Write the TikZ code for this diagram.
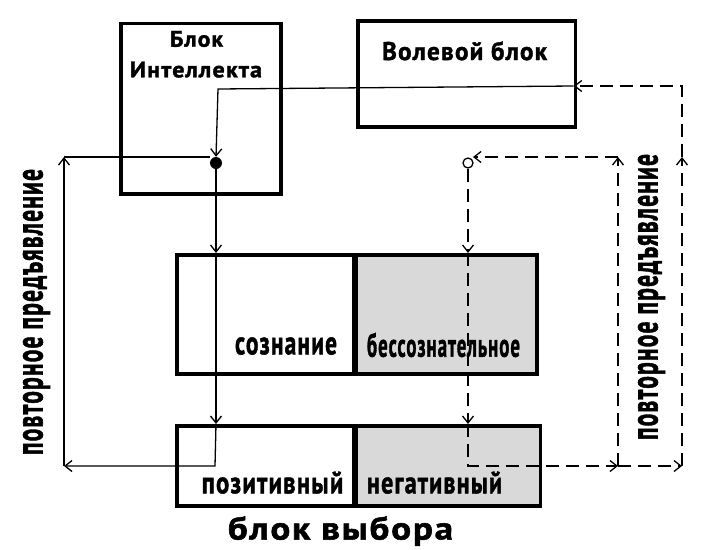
\documentclass[tikz,border=0pt]{standalone}
\usepackage{fontspec}
\setmainfont{PT Sans}[FakeBold=1.6, LetterSpace=5]
\usepackage{graphicx}
\usetikzlibrary{arrows.meta}
\definecolor{boxgray}{HTML}{D9D9D9}
\newcommand{\rz}[3]{\resizebox{#2pt}{\height}{\fontsize{#1pt}{#1pt}\selectfont\bfseries #3}}
\begin{document}
\begin{tikzpicture}[x=1pt,y=-1pt,
  box/.style={draw, line width=3.7pt, rectangle, inner sep=0pt, anchor=north west},
  graybox/.style={box, fill=boxgray},
  conn/.style={line width=1.3pt},
  dconn/.style={line width=1.3pt, dash pattern=on 13pt off 7pt},
  tip/.style={-{Straight Barb[length=7pt,width=11pt]}},
  lbl/.style={inner sep=0pt, anchor=base},
  rlbl/.style={inner sep=0pt, anchor=base, rotate=90},
]
\useasboundingbox (0,0) rectangle (704,549);

% boxes
\node[box, minimum width=160.3pt, minimum height=170.3pt] (intel) at (119,21.7) {};
\node[box, minimum width=217.7pt, minimum height=105.7pt] (vol) at (356,19.3) {};
\node[box, minimum width=179pt, minimum height=119.3pt] (midL) at (175,253) {};
\node[graybox, minimum width=181pt, minimum height=119.3pt] (midR) at (354,253) {};
\node[box, minimum width=179pt, minimum height=80.3pt] (lowL) at (175,424) {};
\node[graybox, minimum width=184.7pt, minimum height=80.3pt] (lowR) at (354,424) {};
\draw[line width=3.7pt] (midR.north west) -- ++(0,123);
\draw[line width=3.7pt] (lowR.north west) -- ++(0,84);

% labels
\node[lbl] (t1) at (196.5,46.7) {\rz{22.5}{53}{Блок}};
\node[lbl] (t2) at (196,77.3) {\rz{22.5}{132}{Интеллекта}};
\node[lbl] (t3) at (464.5,60) {\rz{25.5}{165}{Волевой блок}};
\node[lbl] (t4) at (286,354.3) {\rz{33}{102}{сознание}};
\node[lbl] (t5) at (443.5,356.7) {\rz{33}{153}{бессознательное}};
\node[lbl] (t6) at (272.5,493.3) {\rz{31}{141.6}{позитивный}};
\node[lbl] (t7) at (434.5,493.3) {\rz{31}{135}{негативный}};
\node[lbl] (t8) at (340.5,539.5) {\rz{32}{225}{блок выбора}};
\node[rlbl] (t9) at (42.5,312) {\rz{38}{286}{повторное предъявление}};
\node[rlbl] (t10) at (657.5,297) {\rz{38}{286}{повторное предъявление}};

% junctions
\node[circle, fill=black, inner sep=0pt, minimum size=12pt] (dot) at (216,163) {};
\node[circle, draw, fill=white, line width=1.3pt, inner sep=0pt, minimum size=10pt] (ring) at (468,163) {};

% coordinates
\coordinate (vin) at (573.7,86);
\coordinate (cA) at (218,89);
\coordinate (lt) at (64,157);
\coordinate (lb) at (64,466);
\coordinate (cb) at (215,466);
\coordinate (ringin) at (473,157);
\coordinate (d1) at (618,157);
\coordinate (d2) at (618,466);
\coordinate (cb2) at (468,466);
\coordinate (rb) at (682,466);
\coordinate (rm) at (682,157);
\coordinate (rtop) at (682,86);

% solid loop
\draw[conn, tip] (vin) -- (cA) -- (dot.north);
\draw[conn, tip] (dot.south) -- (dot.south |- midL.north);
\draw[conn, tip] (dot.south |- midL.north) -- (dot.south |- lowL.north);
\draw[conn, tip] (dot.south |- lowL.north) -- (cb) -- (lb);
\draw[conn, tip] (lb) -- (lt);
\draw[conn] (lt) -- (lt -| dot.west);

% dashed loop
\draw[dconn, tip] (ring.south) -- (ring.south |- midR.north);
\draw[dconn, tip] (ring.south |- midR.north) -- (ring.south |- lowR.north);
\draw[dconn, tip] (ring.south |- lowR.north) -- (cb2) -- (d2);
\draw[dconn, tip] (d2) -- (rb);
\draw[dconn, tip] (d2) -- (d1);
\draw[dconn, tip] (d1) -- (ringin);
\draw[dconn, tip] (rb) -- (rm);
\draw[dconn, tip] (rm) -- (rtop) -- (vin);
\end{tikzpicture}
\end{document}
